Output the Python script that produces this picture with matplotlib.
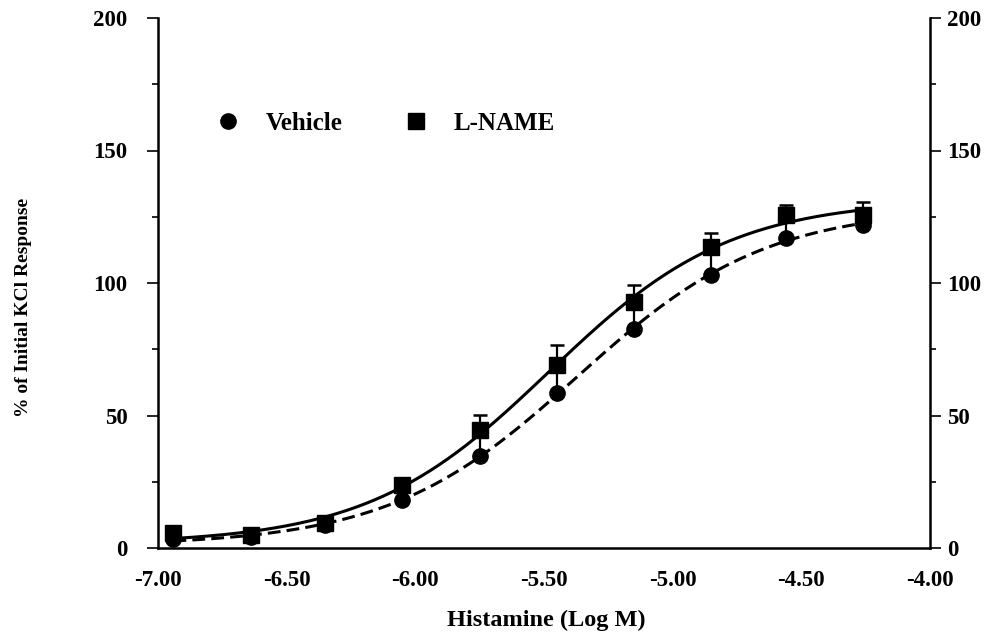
import numpy as np
import matplotlib
matplotlib.use("Agg")
import matplotlib.pyplot as plt
from matplotlib.lines import Line2D

# ---------------- data ----------------
log_dose = [-6.94, -6.64, -6.35, -6.05, -5.75, -5.45, -5.15, -4.85, -4.56, -4.26]
vehicle = [3.5, 4.3, 8.7, 18.0, 34.7, 58.5, 82.6, 103.0, 117.0, 122.0]
vehicle_err = [1.0, 1.0, 1.5, 3.5, 9.0, 10.0, 9.0, 9.0, 7.0, 3.5]
lname = [5.7, 5.0, 9.5, 23.8, 44.5, 69.0, 92.8, 113.6, 125.5, 125.5]
lname_err = [1.5, 1.5, 1.5, 2.5, 5.7, 7.5, 6.5, 5.3, 4.0, 5.0]

x_ticks = [-7.00, -6.50, -6.00, -5.50, -5.00, -4.50, -4.00]
y_ticks = [0, 50, 100, 150, 200]
series_names = ["Vehicle", "L-NAME"]


def fit_logistic(x, y):
    """Least-squares 4-parameter logistic fit (grid over EC50/slope, linear for bottom/top)."""
    x = np.asarray(x, float)
    y = np.asarray(y, float)
    best = None
    for ec in np.arange(-6.5, -4.0, 0.005):
        for h in np.arange(0.4, 2.5, 0.01):
            s = 1.0 / (1.0 + 10 ** ((ec - x) * h))
            A = np.column_stack([1 - s, s])
            coef, *_ = np.linalg.lstsq(A, y, rcond=None)
            r = np.sum((A @ coef - y) ** 2)
            if best is None or r < best[0]:
                best = (r, coef[0], coef[1], ec, h)
    _, bot, top, ec, h = best
    return lambda xx: bot + (top - bot) / (1.0 + 10 ** ((ec - xx) * h))


serif = ["Liberation Serif", "DejaVu Serif"]
plt.rcParams["font.family"] = serif

W, H = 999, 638
fig = plt.figure(figsize=(W / 100, H / 100), dpi=100)
L, R, T, B = 158, 930, 18, 548
ax = fig.add_axes([L / W, 1 - B / H, (R - L) / W, (B - T) / H])

xs = np.linspace(log_dose[0], log_dose[-1], 300)
f_veh = fit_logistic(log_dose, vehicle)
f_ln = fit_logistic(log_dose, lname)

# Vehicle (dashed, circles)
ax.plot(xs, f_veh(xs), color="black", lw=2.2, dashes=(4.2, 2.0), zorder=2)
ax.errorbar(log_dose, vehicle, yerr=[np.zeros(len(vehicle)), vehicle_err],
            fmt="o", color="black", ms=11, elinewidth=1.6, capsize=5, capthick=1.8, zorder=3)
# L-NAME (solid, squares)
ax.plot(xs, f_ln(xs), color="black", lw=2.2, zorder=4)
ax.errorbar(log_dose, lname, yerr=[np.zeros(len(lname)), lname_err],
            fmt="s", color="black", ms=11, elinewidth=1.6, capsize=5, capthick=1.8, zorder=5)

ax.set_xlim(-7.0, -4.0)
ax.set_ylim(0, 200)
ax.set_xticks(x_ticks)
ax.set_xticklabels([f"{v:.2f}" for v in x_ticks])
ax.set_yticks(y_ticks)
ax.set_yticks(np.arange(0, 201, 25), minor=True)

tick_font = dict(family=serif, weight="bold", size=16.5)
for lab in ax.get_xticklabels() + ax.get_yticklabels():
    lab.set_fontproperties(matplotlib.font_manager.FontProperties(**tick_font))

ax.tick_params(axis="x", length=0, pad=16)
ax.tick_params(axis="y", which="major", direction="out", length=8, width=1.2, pad=14)
ax.tick_params(axis="y", which="minor", direction="out", length=4, width=1.2)
for s in ["top", "right"]:
    ax.spines[s].set_visible(False)
for s in ["left", "bottom"]:
    ax.spines[s].set_linewidth(1.8)

ax2 = ax.twinx()
ax2.set_ylim(0, 200)
ax2.set_yticks(y_ticks)
ax2.set_yticks(np.arange(0, 201, 25), minor=True)
for lab in ax2.get_yticklabels():
    lab.set_fontproperties(matplotlib.font_manager.FontProperties(**tick_font))
ax2.tick_params(axis="y", which="major", direction="out", length=8, width=1.2, pad=4)
ax2.tick_params(axis="y", which="minor", direction="out", length=4, width=1.2)
for s in ["top", "left", "bottom"]:
    ax2.spines[s].set_visible(False)
ax2.spines["right"].set_linewidth(1.8)

ax.set_xlabel("Histamine (Log M)", fontsize=17.5, fontweight="bold", family=serif)
ax.xaxis.set_label_coords((546 - L) / (R - L), (B - 610) / (B - T))
ax.set_ylabel("% of Initial KCl Response", fontsize=14, fontweight="bold", family=serif)
ax.yaxis.set_label_coords((32 - L) / (R - L), (B - 307) / (B - T))

handles = [Line2D([], [], ls="none", marker="o", color="black", ms=11),
           Line2D([], [], ls="none", marker="s", color="black", ms=11)]
ax.legend(handles, series_names, loc="center left",
          bbox_to_anchor=((215.5 - L) / (R - L), (B - 123) / (B - T)),
          ncol=2, frameon=False, handlelength=1.0, handletextpad=1.0,
          columnspacing=2.45, borderpad=0, borderaxespad=0,
          prop=dict(family=serif, weight="bold", size=18))

fig.savefig("out.png", dpi=100)
